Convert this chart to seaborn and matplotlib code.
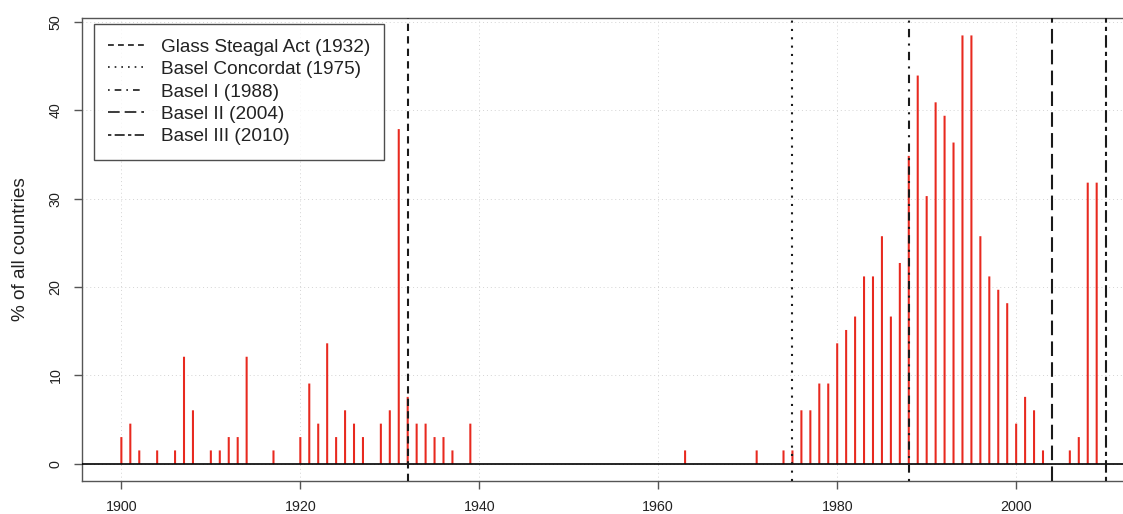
import matplotlib
matplotlib.use("Agg")
import matplotlib.pyplot as plt
from matplotlib.lines import Line2D
import seaborn as sns

# share of countries in a banking crisis, by year
years = list(range(1900, 2010))
pct_countries = [
    3.03, 4.55, 1.52, 0, 1.52, 0, 1.52, 12.12, 6.06, 0,          # 1900s
    1.52, 1.52, 3.03, 3.03, 12.12, 0, 0, 1.52, 0, 0,             # 1910s
    3.03, 9.09, 4.55, 13.64, 3.03, 6.06, 4.55, 3.03, 0, 4.55,    # 1920s
    6.06, 37.88, 7.58, 4.55, 4.55, 3.03, 3.03, 1.52, 0, 4.55,    # 1930s
    0, 0, 0, 0, 0, 0, 0, 0, 0, 0,                                # 1940s
    0, 0, 0, 0, 0, 0, 0, 0, 0, 0,                                # 1950s
    0, 0, 0, 1.52, 0, 0, 0, 0, 0, 0,                             # 1960s
    0, 1.52, 0, 0, 1.52, 1.52, 6.06, 6.06, 9.09, 9.09,           # 1970s
    13.64, 15.15, 16.67, 21.21, 21.21, 25.76, 16.67, 22.73, 34.85, 43.94,  # 1980s
    30.30, 40.91, 39.39, 36.36, 48.48, 48.48, 25.76, 21.21, 19.70, 18.18,  # 1990s
    4.55, 7.58, 6.06, 1.52, 0, 0, 1.52, 3.03, 31.82, 31.82,      # 2000s
]

event_labels = ["Glass Steagal Act (1932)", "Basel Concordat (1975)",
                "Basel I (1988)", "Basel II (2004)", "Basel III (2010)"]
event_years = [1932, 1975, 1988, 2004, 2010]
event_dashes = [(3.5, 2.5), (1, 3), (1, 3, 4, 3), (7, 3), (2, 2, 6, 2)]

sns.set_theme(style="white")
plt.rcParams['font.family'] = ['Liberation Sans', 'DejaVu Sans']

fig = plt.figure(figsize=(11.23, 5.14), dpi=100)
ax = fig.add_axes([82 / 1123, 33 / 514, 1063 / 1123, 462.9 / 514])

# grid first so it sits underneath
for gx in range(1900, 2001, 20):
    ax.axvline(gx, color='#d4d4d4', lw=0.7, ls=(0, (1, 3)), zorder=0)
for gy in range(0, 51, 10):
    ax.axhline(gy, color='#d4d4d4', lw=0.7, ls=(0, (1, 3)), zorder=0)

sns.barplot(x=years, y=pct_countries, native_scale=True, width=0.23,
            color='#E8291F', saturation=1, errorbar=None, linewidth=0,
            ax=ax, zorder=2)
for p in ax.patches:
    p.set_snap(False)

ax.axhline(0, color='black', lw=1.2, zorder=3)

for yr, dsh in zip(event_years, event_dashes):
    ax.axvline(yr, color='#1a1a1a', lw=1.5, ls=(0, dsh), zorder=4)

ax.set_xlim(1895.6, 2014.4)
ax.set_ylim(-1.94, 50.44)
ax.set_xticks(range(1900, 2001, 20))
ax.set_xticklabels([str(t) for t in range(1900, 2001, 20)])
ax.set_yticks(range(0, 51, 10))
ax.set_yticklabels([str(t) for t in range(0, 51, 10)], rotation=90, va='center')
ax.tick_params(axis='both', which='major', direction='out', length=6,
               width=1, color='#555555', labelsize=10.3, labelcolor='#222222',
               left=True, bottom=True, pad=8)
ax.set_xlabel('')
ax.set_ylabel('% of all countries', fontsize=13.7, color='#222222')
ax.yaxis.set_label_coords(-0.0494, 0.5)

for side in ['left', 'bottom', 'top']:
    ax.spines[side].set_color('#555555')
    ax.spines[side].set_linewidth(1.0)
ax.spines['right'].set_visible(False)

handles = [Line2D([], [], color='#1a1a1a', lw=1.2, ls=(0, d)) for d in event_dashes]
leg = ax.legend(handles, event_labels, loc='upper left',
                bbox_to_anchor=(94 / 1123, 1 - 24 / 514),
                bbox_transform=fig.transFigure, borderaxespad=0,
                fontsize=13.7, frameon=True, fancybox=False,
                handlelength=1.9, handletextpad=0.85, labelspacing=0.27,
                borderpad=0.75)
leg.get_frame().set_edgecolor('#222222')
leg.get_frame().set_linewidth(1.0)
for t in leg.get_texts():
    t.set_color('#222222')

fig.savefig('out.png', dpi=100)
